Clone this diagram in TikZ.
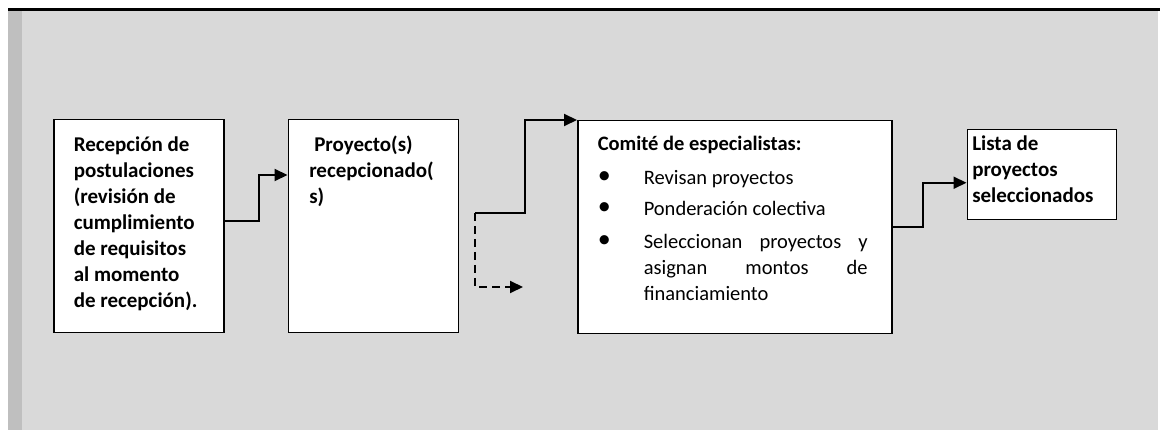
\documentclass[tikz,border=0pt]{standalone}
\usepackage{fontspec}
\setmainfont{Carlito}
\usepackage{xcolor}
\usetikzlibrary{arrows.meta,positioning}
\definecolor{panel-gray}{HTML}{D9D9D9}
\definecolor{strip-gray}{HTML}{BFBFBF}
\newcommand{\bulletdot}{\raisebox{1pt}{\fontsize{26}{26}\selectfont •}}
\newcommand{\bulletitem}[1]{\par\noindent\makebox[46pt][l]{\hspace{0pt}\bulletdot}\parbox[t]{224pt}{#1}}
\tikzset{
    step-box/.style = {draw=black, fill=white, line width=1.5pt, rectangle, anchor=north west, inner ysep=14pt},
    step-text/.style = {font=\fontsize{21}{26}\selectfont},
    flow-arrow/.style = {line width=2pt, -{Triangle[length=13pt,width=12pt]}},
}

\begin{document}
\begin{tikzpicture}[x=1pt, y=-1pt]
\useasboundingbox (0,0) rectangle (1160,430);
\fill[panel-gray] (8,11) rectangle (1158,430);
\fill[strip-gray] (8,11) rectangle (22,430);
\draw[line width=3pt] (8,9.5) -- (1160,9.5);

\node [step-box, step-text, inner xsep=20pt] (recep) at (53,119) {\begin{minipage}[t][185pt][t]{130pt}
    \raggedright\bfseries\rule{0pt}{18pt}Recepción de\\ postulaciones\\ (revisión de\\ cumplimiento\\ de requisitos\\ al momento\\ de recepción).
\end{minipage}};
\node [step-box, step-text, inner xsep=21pt, right=63pt of recep.north east, anchor=north west] (proy) {\begin{minipage}[t][185pt][t]{128pt}
    \raggedright\bfseries\rule{0pt}{18pt}\hspace{5pt}Proyecto(s)\\ recepcionado(\\ s)
\end{minipage}};
\node [step-box, inner xsep=20pt, inner ysep=12pt, right=118pt of proy.north east, anchor=north west, yshift=-1pt] (comite) {\begin{minipage}[t][189pt][t]{274pt}
    \fontsize{20.5}{26}\selectfont\rule{0pt}{18pt}\textbf{Comité de especialistas:}\par\vspace{8pt}
    \bulletitem{Revisan proyectos}\par\vspace{5pt}
    \bulletitem{Ponderación colectiva}\par\vspace{7pt}
    \bulletitem{Seleccionan proyectos y\linebreak asignan montos de\linebreak financiamiento}
\end{minipage}};
\node [step-box, step-text, inner xsep=5pt, inner ysep=3pt, right=74pt of comite.north east, anchor=north west, yshift=-9pt] (lista) {\begin{minipage}[t][84pt][t]{139pt}
    \raggedright\bfseries\rule{0pt}{18pt}Lista de\\ proyectos\\ seleccionados
\end{minipage}};

\coordinate (split) at (475,213);
\coordinate (dash-end) at (523,287);

\draw[flow-arrow] ([yshift=5.5pt]recep.east) -- ++(34,0) |- ([yshift=-56pt]proy.north west);
\draw[flow-arrow] (split) -- ++(50,0) |- (comite.north west);
\draw[flow-arrow, dash pattern=on 8pt off 5pt] (split) |- (dash-end);
\draw[flow-arrow] (comite.east) -- ++(30,0) |- ([yshift=-8pt]lista.west);
\end{tikzpicture}
\end{document}
